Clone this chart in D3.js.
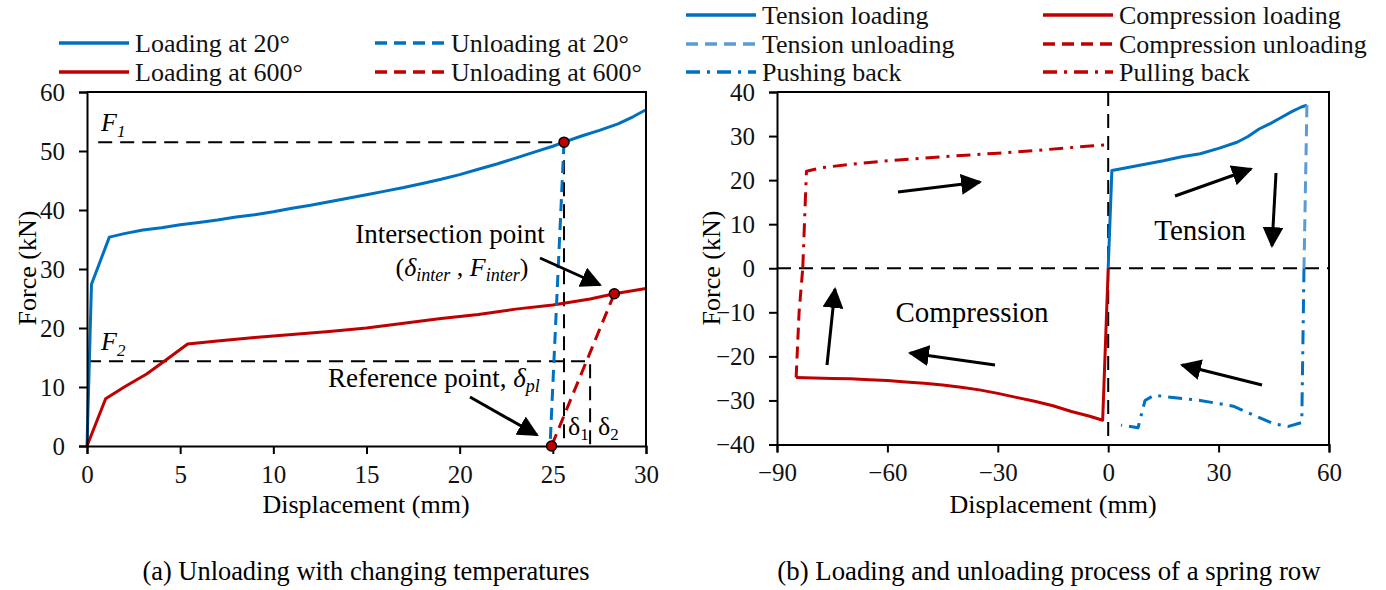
<!DOCTYPE html>
<html>
<head>
<meta charset="utf-8">
<script src="https://cdn.jsdelivr.net/npm/d3@7"></script>
<style>
  html, body { margin: 0; padding: 0; background: #fff; }
  svg { display: block; font-family: "Liberation Serif", "Times New Roman", serif; }
  svg text { font-family: "Liberation Serif", "Times New Roman", serif; }
</style>
</head>
<body>
<svg id="chart" width="1386" height="590"></svg>
<script>
// ---- Panel (a): force–displacement, loading / unloading at two temperatures ----
const loading20 = [[0,0],[0.24,27.4],[1.2,35.4],[2,36],[3,36.6],[4,37],[5,37.5],[6,37.9],[7,38.3],[8,38.8],[9,39.2],[10,39.7],[11,40.3],[12,40.8],[13,41.4],[14,42],[15,42.6],[16,43.2],[17,43.8],[18,44.5],[19,45.2],[20,46],[21,46.9],[22,47.8],[23,48.8],[24,49.8],[25,50.8],[25.6,51.5],[26.5,52.5],[27.5,53.5],[28.5,54.6],[29.3,55.8],[30,57]];
const unloading20 = [[25.6,51.5],[24.85,0]];
const loading600 = [[0,0],[1.0,8.0],[2,10],[3.2,12.2],[4.2,14.5],[5.4,17.3],[7,17.8],[9,18.4],[11,18.9],[13,19.4],[15,20.0],[17,20.8],[19,21.6],[21,22.3],[23,23.2],[25,23.9],[27,24.9],[28.3,25.8],[30,26.7]];
const unloading600 = [[28.3,25.8],[24.93,0]];
const refF1 = 51.5, refF2 = 14.35;          // force levels F1, F2 (kN)
const refD1 = 25.6, refD2 = 27.0;           // displacements δ1, δ2 ends (mm)
const pointsA = [[25.6,51.5],[28.3,25.8],[24.93,0]];
const ticksAx = [0,5,10,15,20,25,30];
const ticksAy = [0,10,20,30,40,50,60];

// ---- Panel (b): loading and unloading of a spring row ----
const tensionLoading = [[0,0],[1,22.2],[5,22.8],[10,23.6],[15,24.4],[20,25.3],[25,26.0],[30,27.2],[35,28.6],[38,29.9],[41,31.6],[44,32.8],[47,34.2],[50,35.6],[52.5,36.6],[54,37]];
const tensionUnloading = [[54,37],[53.2,0]];
const pushingBack = [[53.2,0],[52.6,-35],[49,-35.9],[45,-35.3],[40,-33.5],[34,-31.3],[25,-30],[16,-29.2],[12.5,-28.8],[10,-30],[8.1,-36.2],[3.5,-35.6]];
const compressionLoading = [[0,0],[-1.5,-34.5],[-5,-33.6],[-10,-32.5],[-15,-31.2],[-20,-30.2],[-25,-29.3],[-30,-28.4],[-35,-27.6],[-40,-27.0],[-45,-26.5],[-50,-26.1],[-55,-25.8],[-60,-25.5],[-65,-25.3],[-70,-25.1],[-75,-25.0],[-80,-24.9],[-84.8,-24.8]];
const compressionUnloading = [[-84.8,-24.8],[-84,-10],[-83,0]];
const pullingBack = [[-83,0],[-82,22],[-78,22.8],[-70,23.6],[-60,24.4],[-50,25.0],[-40,25.6],[-30,26.1],[-20,26.7],[-10,27.4],[-4,27.8],[0,28]];
const ticksBx = [-90,-60,-30,0,30,60];
const ticksBy = [-40,-30,-20,-10,0,10,20,30,40];

const BLUE = "#0070C0", LBLUE = "#5B9BD5", RED = "#C00000";
const DASH = "12,7", DASHDOT = "14,7,3,7", REFDASH = "14,8";
const FS = 26, TICKFS = 25;
const FONT = "Liberation Serif";

const svg = d3.select("#chart");
const defs = svg.append("defs");
defs.append("marker").attr("id", "ah")
  .attr("viewBox", "0 0 10 10").attr("refX", 9).attr("refY", 5)
  .attr("markerWidth", 7).attr("markerHeight", 7).attr("markerUnits", "strokeWidth")
  .attr("orient", "auto")
  .append("path").attr("d", "M0,0 L10,5 L0,10 Z").attr("fill", "#000");

function frame(g, x, y, tx, ty) {
  const [x0, x1] = x.range(), [y0, y1] = y.range();
  const style = a => {
    a.attr("font-family", FONT);
    a.selectAll("path,line").attr("stroke", "#000").attr("stroke-width", 2);
    a.selectAll("text").attr("font-size", TICKFS).attr("font-family", FONT).attr("fill", "#111");
  };
  g.append("g").attr("transform", `translate(0,${y0})`)
    .call(d3.axisBottom(x).tickValues(tx).tickSize(8).tickPadding(11).tickFormat(d3.format("d")))
    .call(style);
  g.append("g").attr("transform", `translate(${x0},0)`)
    .call(d3.axisLeft(y).tickValues(ty).tickSize(8).tickPadding(14).tickFormat(d3.format("d")))
    .call(style);
  g.append("path").attr("d", `M${x0},${y1} H${x1} V${y0}`)
    .attr("fill", "none").attr("stroke", "#000").attr("stroke-width", 2);
}

function series(g, x, y, data, color, dash, width) {
  g.append("path").datum(data)
    .attr("d", d3.line().x(d => x(d[0])).y(d => y(d[1])))
    .attr("fill", "none").attr("stroke", color).attr("stroke-width", width || 3)
    .attr("stroke-dasharray", dash || null).attr("stroke-linejoin", "round");
}

function arrow(g, x1, y1, x2, y2) {
  g.append("line").attr("x1", x1).attr("y1", y1).attr("x2", x2).attr("y2", y2)
    .attr("stroke", "#000").attr("stroke-width", 3).attr("marker-end", "url(#ah)");
}

function legendRow(g, xLine, y, color, dash, label) {
  g.append("line").attr("x1", xLine).attr("x2", xLine + 70).attr("y1", y).attr("y2", y)
    .attr("stroke", color).attr("stroke-width", 3.5).attr("stroke-dasharray", dash || null);
  g.append("text").attr("x", xLine + 76).attr("y", y + 9).attr("font-size", FS).attr("fill", "#111").text(label);
}

// ================= Panel (a) =================
const xA = d3.scaleLinear([0, 30], [87, 646]);
const yA = d3.scaleLinear([0, 60], [446, 92]);
const gA = svg.append("g");

// reference dashed guides
gA.append("path")
  .attr("d", `M${xA(0.6)},${yA(refF1)} H${xA(refD1)} V${yA(0)} M${xA(0)},${yA(refF2)} H${xA(refD2)} V${yA(0)}`)
  .attr("fill", "none").attr("stroke", "#000").attr("stroke-width", 2).attr("stroke-dasharray", REFDASH);

series(gA, xA, yA, loading20, BLUE);
series(gA, xA, yA, loading600, RED);
series(gA, xA, yA, unloading20, BLUE, DASH);
series(gA, xA, yA, unloading600, RED, DASH);
frame(gA, xA, yA, ticksAx, ticksAy);

gA.selectAll("circle.pt").data(pointsA).join("circle").attr("class", "pt")
  .attr("cx", d => xA(d[0])).attr("cy", d => yA(d[1])).attr("r", 5)
  .attr("fill", RED).attr("stroke", "#000").attr("stroke-width", 1.5);

// labels
const tF1 = gA.append("text").attr("x", 101).attr("y", 131).attr("font-size", FS).attr("font-style", "italic");
tF1.append("tspan").text("F");
tF1.append("tspan").attr("font-size", 17).attr("dy", 6).text("1");
const tF2 = gA.append("text").attr("x", 101).attr("y", 350).attr("font-size", FS).attr("font-style", "italic");
tF2.append("tspan").text("F");
tF2.append("tspan").attr("font-size", 17).attr("dy", 6).text("2");

gA.append("text").attr("x", 450).attr("y", 243).attr("text-anchor", "middle").attr("font-size", 27).text("Intersection point");
const tInt = gA.append("text").attr("x", 462).attr("y", 276).attr("text-anchor", "middle").attr("font-size", FS);
tInt.append("tspan").text("(");
tInt.append("tspan").attr("font-style", "italic").text("δ");
tInt.append("tspan").attr("font-style", "italic").attr("font-size", 18).attr("dy", 5).text("inter");
tInt.append("tspan").attr("dy", -5).text(" , ");
tInt.append("tspan").attr("font-style", "italic").text("F");
tInt.append("tspan").attr("font-style", "italic").attr("font-size", 18).attr("dy", 5).text("inter");
tInt.append("tspan").attr("dy", -5).text(")");
arrow(gA, 540, 258, 600, 285);

const tRef = gA.append("text").attr("x", 328).attr("y", 387).attr("font-size", 27);
tRef.append("tspan").text("Reference point, ");
tRef.append("tspan").attr("font-style", "italic").text("δ");
tRef.append("tspan").attr("font-style", "italic").attr("font-size", 18).attr("dy", 5).text("pl");
arrow(gA, 470, 397, 537, 435);

const tD1 = gA.append("text").attr("x", 568).attr("y", 435).attr("font-size", FS);
tD1.append("tspan").text("δ");
tD1.append("tspan").attr("font-size", 17).attr("dy", 5).text("1");
const tD2 = gA.append("text").attr("x", 598).attr("y", 435).attr("font-size", FS);
tD2.append("tspan").text("δ");
tD2.append("tspan").attr("font-size", 17).attr("dy", 5).text("2");

gA.append("text").attr("transform", "translate(36,268) rotate(-90)").attr("text-anchor", "middle").attr("font-size", FS).text("Force (kN)");
gA.append("text").attr("x", 366).attr("y", 513).attr("text-anchor", "middle").attr("font-size", FS).text("Displacement (mm)");
gA.append("text").attr("x", 366).attr("y", 580).attr("text-anchor", "middle").attr("font-size", 26.4).text("(a) Unloading with changing temperatures");

const legA = svg.append("g");
legendRow(legA, 59, 43, BLUE, null, "Loading at 20°");
legendRow(legA, 59, 72, RED, null, "Loading at 600°");
legendRow(legA, 375, 43, BLUE, DASH, "Unloading at 20°");
legendRow(legA, 375, 72, RED, DASH, "Unloading at 600°");

// ================= Panel (b) =================
const xB = d3.scaleLinear([-90, 60], [777, 1329]);
const yB = d3.scaleLinear([-40, 40], [444.5, 92]);
const gB = svg.append("g");

gB.append("path")
  .attr("d", `M${xB(0)},${yB(40)} V${yB(-40)} M${xB(-90)},${yB(0)} H${xB(60)}`)
  .attr("fill", "none").attr("stroke", "#000").attr("stroke-width", 2).attr("stroke-dasharray", REFDASH);

series(gB, xB, yB, compressionLoading, RED);
series(gB, xB, yB, compressionUnloading, RED, DASH);
series(gB, xB, yB, pullingBack, RED, DASHDOT);
series(gB, xB, yB, tensionLoading, BLUE);
series(gB, xB, yB, tensionUnloading, LBLUE, DASH);
series(gB, xB, yB, pushingBack, BLUE, DASHDOT);
frame(gB, xB, yB, ticksBx, ticksBy);

arrow(gB, 898, 192, 980, 182);
arrow(gB, 827, 365, 835, 289);
arrow(gB, 995, 365, 910, 353);
arrow(gB, 1175, 196, 1251, 169);
arrow(gB, 1276, 173, 1272, 246);
arrow(gB, 1262, 385, 1182, 365);

gB.append("text").attr("x", 1200).attr("y", 240).attr("text-anchor", "middle").attr("font-size", 29).text("Tension");
gB.append("text").attr("x", 972).attr("y", 322).attr("text-anchor", "middle").attr("font-size", 29).text("Compression");

gB.append("text").attr("transform", "translate(720,268) rotate(-90)").attr("text-anchor", "middle").attr("font-size", FS).text("Force (kN)");
gB.append("text").attr("x", 1053).attr("y", 513).attr("text-anchor", "middle").attr("font-size", FS).text("Displacement (mm)");
gB.append("text").attr("x", 1049).attr("y", 580).attr("text-anchor", "middle").attr("font-size", 26.8).text("(b) Loading and unloading process of a spring row");

const legB = svg.append("g");
legendRow(legB, 686, 15, BLUE, null, "Tension loading");
legendRow(legB, 686, 44, LBLUE, DASH, "Tension unloading");
legendRow(legB, 686, 72, BLUE, DASHDOT, "Pushing back");
legendRow(legB, 1043, 15, RED, null, "Compression loading");
legendRow(legB, 1043, 44, RED, DASH, "Compression unloading");
legendRow(legB, 1043, 72, RED, DASHDOT, "Pulling back");
</script>
</body>
</html>
